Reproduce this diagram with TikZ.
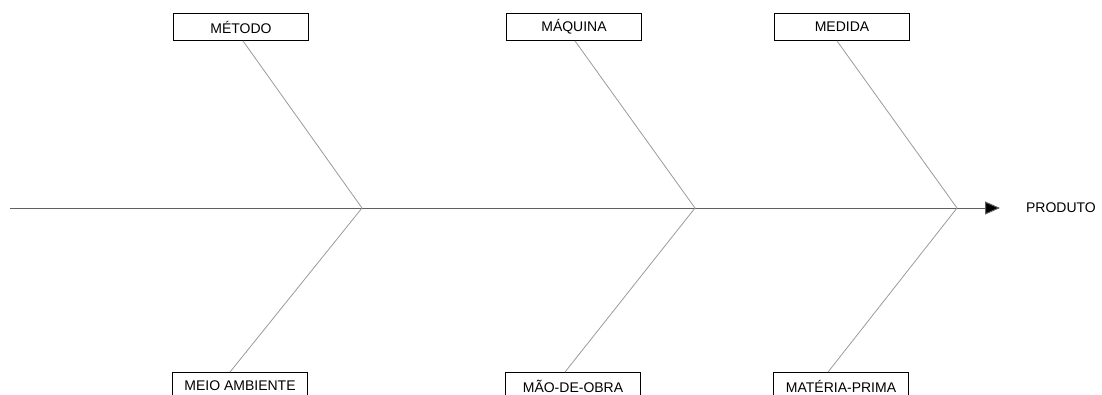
\documentclass[tikz,border=0pt]{standalone}
\usepackage{fontspec}
\setmainfont{Liberation Sans}
\usepackage{tikz}
\usetikzlibrary{arrows.meta, positioning}
\definecolor{bone}{HTML}{9A9A9A}
\definecolor{spine}{HTML}{606060}

\begin{document}
\begin{tikzpicture}[
    x=1pt, y=-1pt,
    cause/.style={rectangle, draw=black, line width=0.9pt, fill=white, minimum width=135pt, minimum height=27pt, inner sep=0pt, font=\fontsize{14}{16}\selectfont},
    effect/.style={font=\fontsize{14}{16}\selectfont, anchor=center},
    bone/.style={draw=bone, line width=0.8pt},
]
\useasboundingbox (0,0) rectangle (1102,394);

% Spine joints
\coordinate (tail) at (10,208);
\coordinate (j1) at (362,208);
\coordinate (j2) at (695,208);
\coordinate (j3) at (957,208);
\coordinate (head) at (1000,208);

% Causes
\node[cause] (metodo) at (241,27) {MÉTODO};
\node[cause] (maquina) at (574,27) {MÁQUINA};
\node[cause] (medida) at (842,27) {MEDIDA};
\node[cause] (meio) at (240,386) {MEIO AMBIENTE};
\node[cause] (maoobra) at (573,386) {MÃO-DE-OBRA};
\node[cause] (materia) at (841,386) {MATÉRIA-PRIMA};

% Effect
\node[effect] (produto) at (1061,208) {PRODUTO};

% Spine
\draw[spine, line width=1pt] (tail) -- (j3);
\draw[spine, line width=1pt, -{Triangle[length=15pt, width=13pt, fill=black]}] (j3) -- (head);

% Bones
\draw[bone] ([xshift=2pt]metodo.south) -- (j1);
\draw[bone] ([xshift=1pt]maquina.south) -- (j2);
\draw[bone] ([xshift=-5pt]medida.south) -- (j3);
\draw[bone] (j1) -- ([xshift=-10pt]meio.north);
\draw[bone] (j2) -- ([xshift=-8pt]maoobra.north);
\draw[bone] (j3) -- ([xshift=-13pt]materia.north);

\end{tikzpicture}
\end{document}
